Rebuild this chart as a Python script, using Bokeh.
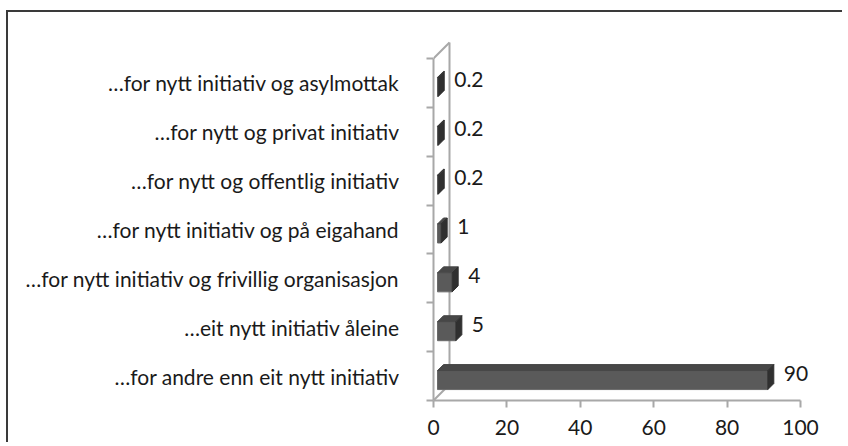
from bokeh.plotting import figure
from bokeh.models import Range1d, FixedTicker, ColumnDataSource
from bokeh.embed import file_html
from bokeh.resources import INLINE
from bokeh.core.properties import value

# ---- data (bottom to top) ----
categories = [
    "…for andre enn eit nytt initiativ",
    "…eit nytt initiativ åleine",
    "…for nytt initiativ og frivillig organisasjon",
    "…for nytt initiativ og på eigahand",
    "…for nytt og offentlig initiativ",
    "…for nytt og privat initiativ",
    "…for nytt initiativ og asylmottak",
]
values = [90, 5, 4, 1, 0.2, 0.2, 0.2]
x_ticks = [0, 20, 40, 60, 80, 100]

# ---- layout / style ----
W, H = 836, 432
ML, MR, MT, MB = 425, 14, 16, 44
SX = 3.67      # px per unit on x
SY = 48.86     # px per category
FONT = "Lato"
FS = "21px"
AXIS_COL = "#a8a8a8"

fw = W - ML - MR
fh = H - MT - MB
n = len(categories)

p = figure(width=W, height=H, output_backend="svg", toolbar_location=None,
           x_range=Range1d(0, fw / SX), y_range=Range1d(0, fh / SY),
           min_border_left=ML, min_border_right=MR, min_border_top=MT,
           min_border_bottom=MB)
p.styles = {"margin-left": "6px", "margin-top": "10px",
            "border-top": "2px solid #3a3a3a", "border-left": "2px solid #3a3a3a"}
p.grid.visible = False
p.outline_line_color = None
p.background_fill_color = "white"
p.border_fill_color = "white"

# 3D helpers (pixels -> data units)
def ux(px):
    return px / SX

def uy(px):
    return px / SY

# walls
WD = 16  # wall depth px
p.segment(x0=[0, 0, ux(WD)], y0=[n, 0, uy(WD)],
          x1=[ux(WD), ux(WD), ux(WD)], y1=[n + uy(WD), uy(WD), n + uy(WD)],
          line_color=AXIS_COL, line_width=2)

# bars as 3D boxes
F, D, BH = 4, 6, 19
centers = [i + 0.5 for i in range(n)]
front_l, front_r, front_b, front_t = [], [], [], []
top_xs, top_ys, side_xs, side_ys = [], [], [], []
for c, v in zip(centers, values):
    l = ux(F)
    r = v + ux(F)
    b = c - uy(F) - uy(BH / 2)
    t = c - uy(F) + uy(BH / 2)
    front_l.append(l); front_r.append(r); front_b.append(b); front_t.append(t)
    top_xs.append([l, r, r + ux(D), l + ux(D)])
    top_ys.append([t, t, t + uy(D), t + uy(D)])
    side_xs.append([r, r, r + ux(D), r + ux(D)])
    side_ys.append([b, t, t + uy(D), b + uy(D)])

p.quad(left=front_l, right=front_r, bottom=front_b, top=front_t,
       fill_color="#5a5a5a", line_color="#6a6a6a", line_width=1)
p.patches(xs=top_xs, ys=top_ys, fill_color="#474747", line_color="#474747", line_width=1)
p.patches(xs=side_xs, ys=side_ys, fill_color="#303030", line_color="#303030", line_width=1)

# data labels
src = ColumnDataSource(dict(x=values, y=centers, t=[f"{v:g}" for v in values]))
p.text(x="x", y="y", text="t", source=src, x_offset=20, y_offset=-3,
       text_align="left", text_baseline="middle",
       text_font=value(FONT), text_font_size=FS, text_color="#1a1a1a")

# y axis
ya = p.yaxis[0]
ya.ticker = FixedTicker(ticks=centers, minor_ticks=list(range(n + 1)))
ya.major_label_overrides = {c: lab for c, lab in zip(centers, categories)}
ya.bounds = (0, n)
ya.axis_line_color = AXIS_COL
ya.axis_line_width = 2
ya.major_tick_line_color = None
ya.minor_tick_line_color = AXIS_COL
ya.minor_tick_line_width = 2
ya.minor_tick_out = 7
ya.minor_tick_in = 0
ya.major_tick_out = 0
ya.major_tick_in = 0
ya.major_label_standoff = 27
ya.major_label_text_font = FONT
ya.major_label_text_font_size = FS
ya.major_label_text_color = "#1a1a1a"

# x axis
xa = p.xaxis[0]
xa.ticker = FixedTicker(ticks=x_ticks)
xa.bounds = (0, 100)
xa.axis_line_color = AXIS_COL
xa.axis_line_width = 2
xa.major_tick_line_color = AXIS_COL
xa.major_tick_line_width = 2
xa.major_tick_out = 7
xa.major_tick_in = 0
xa.minor_tick_line_color = None
xa.major_label_standoff = 12
xa.major_label_text_font = FONT
xa.major_label_text_font_size = FS
xa.major_label_text_color = "#1a1a1a"

open("out.html", "w").write(file_html(p, INLINE))
